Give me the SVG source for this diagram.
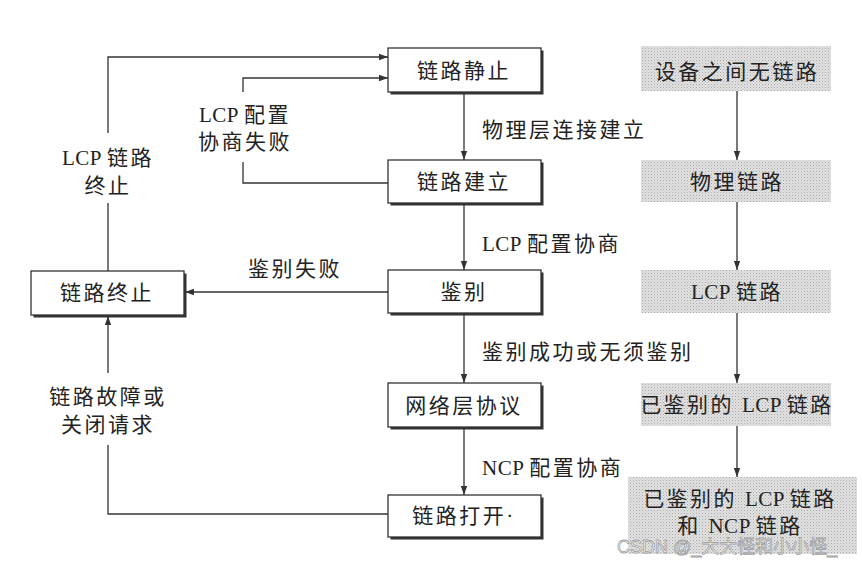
<svg xmlns="http://www.w3.org/2000/svg" width="862" height="563" viewBox="0 0 862 563">
<defs>
<style>
.t{font-family:"Liberation Serif","Noto Sans CJK SC",serif;font-size:21px;fill:#222;letter-spacing:2.5px}
.c{text-anchor:middle}
.la{letter-spacing:0.5px}
.ln{fill:none;stroke:#333;stroke-width:1.3}
.box{fill:#fff;stroke:#333;stroke-width:1.3}
.sh{fill:#333}
.gb{fill:url(#dots)}
.wm{font-family:"Liberation Sans","Noto Sans CJK SC",sans-serif;font-size:18px;fill:#fff;stroke:#a0a0a0;stroke-width:0.8}
</style>
<pattern id="dots" width="3" height="3" patternUnits="userSpaceOnUse">
<rect width="3" height="3" fill="#e2e2e2"/>
<rect width="1" height="1" fill="#a8a8a8"/>
<rect x="1.5" y="1.5" width="1" height="1" fill="#bdbdbd"/>
</pattern>
<marker id="ah" viewBox="0 0 10 10" refX="10" refY="5" markerWidth="9" markerHeight="9" markerUnits="userSpaceOnUse" orient="auto">
<path d="M0,1.5 L10,5 L0,8.5 Z" fill="#333"/>
</marker>
</defs>
<rect width="862" height="563" fill="#fff"/>

<g id="connectors">
<path class="ln" d="M108,271 V203 M108,133 V57 H388" marker-end="url(#ah)"/>
<path class="ln" d="M388,183 H243 V162 M243,92 V78 H388" marker-end="url(#ah)"/>
<path class="ln" d="M388,292 H185" marker-end="url(#ah)"/>
<path class="ln" d="M388,514 H108 V445 M108,373 V316" marker-end="url(#ah)"/>
<path class="ln" d="M464,93 V160" marker-end="url(#ah)"/>
<path class="ln" d="M464,204 V270" marker-end="url(#ah)"/>
<path class="ln" d="M464,314 V383" marker-end="url(#ah)"/>
<path class="ln" d="M464,428 V495" marker-end="url(#ah)"/>
<path class="ln" d="M737,91 V160" marker-end="url(#ah)"/>
<path class="ln" d="M737,202 V270" marker-end="url(#ah)"/>
<path class="ln" d="M737,313 V383" marker-end="url(#ah)"/>
<path class="ln" d="M737,426 V477" marker-end="url(#ah)"/>
<text class="t c" x="108" y="165"><tspan class="la">LCP </tspan>链路</text>
<text class="t c" x="108" y="193">终止</text>
<text class="t c" x="245" y="122"><tspan class="la">LCP </tspan>配置</text>
<text class="t c" x="245" y="149">协商失败</text>
<text class="t c" x="295" y="276">鉴别失败</text>
<text class="t c" x="108" y="404">链路故障或</text>
<text class="t c" x="108" y="432">关闭请求</text>
<text class="t" x="482" y="137">物理层连接建立</text>
<text class="t" x="482" y="251"><tspan class="la">LCP </tspan>配置协商</text>
<text class="t" x="482" y="359">鉴别成功或无须鉴别</text>
<text class="t" x="482" y="475"><tspan class="la">NCP </tspan>配置协商</text>
</g>

<g id="n-quiet"><rect class="sh" x="390.5" y="50.5" width="153" height="44"/><rect class="box" x="388" y="48" width="153" height="44"/><text class="t c" x="464" y="78">链路静止</text></g>
<g id="n-establish"><rect class="sh" x="390.5" y="162.5" width="153" height="43"/><rect class="box" x="388" y="160" width="153" height="43"/><text class="t c" x="464" y="189">链路建立</text></g>
<g id="n-auth"><rect class="sh" x="390.5" y="272.5" width="153" height="43"/><rect class="box" x="388" y="270" width="153" height="43"/><text class="t c" x="464" y="299">鉴别</text></g>
<g id="n-network"><rect class="sh" x="390.5" y="385.5" width="153" height="44"/><rect class="box" x="388" y="383" width="153" height="44"/><text class="t c" x="464" y="413">网络层协议</text></g>
<g id="n-open"><rect class="sh" x="390.5" y="497.5" width="153" height="42"/><rect class="box" x="388" y="495" width="153" height="42"/><text class="t c" x="464" y="523">链路打开·</text></g>
<g id="n-terminate"><rect class="sh" x="33.5" y="273.5" width="153" height="44"/><rect class="box" x="31" y="271" width="153" height="44"/><text class="t c" x="107" y="300">链路终止</text></g>

<g id="s-none"><rect class="gb" x="641" y="46" width="190" height="45"/><text class="t c" x="737" y="79">设备之间无链路</text></g>
<g id="s-phys"><rect class="gb" x="641" y="160" width="190" height="42"/><text class="t c" x="737" y="189">物理链路</text></g>
<g id="s-lcp"><rect class="gb" x="641" y="270" width="190" height="43"/><text class="t c" x="737" y="299"><tspan class="la">LCP </tspan>链路</text></g>
<g id="s-authlcp"><rect class="gb" x="641" y="383" width="190" height="43"/><text class="t c" x="737" y="412">已鉴别的 <tspan class="la">LCP </tspan>链路</text></g>
<g id="s-ncp"><rect class="gb" x="628" y="477" width="229" height="77"/><text class="t c" x="740" y="506">已鉴别的 <tspan class="la">LCP </tspan>链路</text><text class="t c" x="740" y="533">和 <tspan class="la">NCP </tspan>链路</text></g>

<text class="wm" x="617" y="553">CSDN @_大大怪和小小怪_</text>
</svg>
